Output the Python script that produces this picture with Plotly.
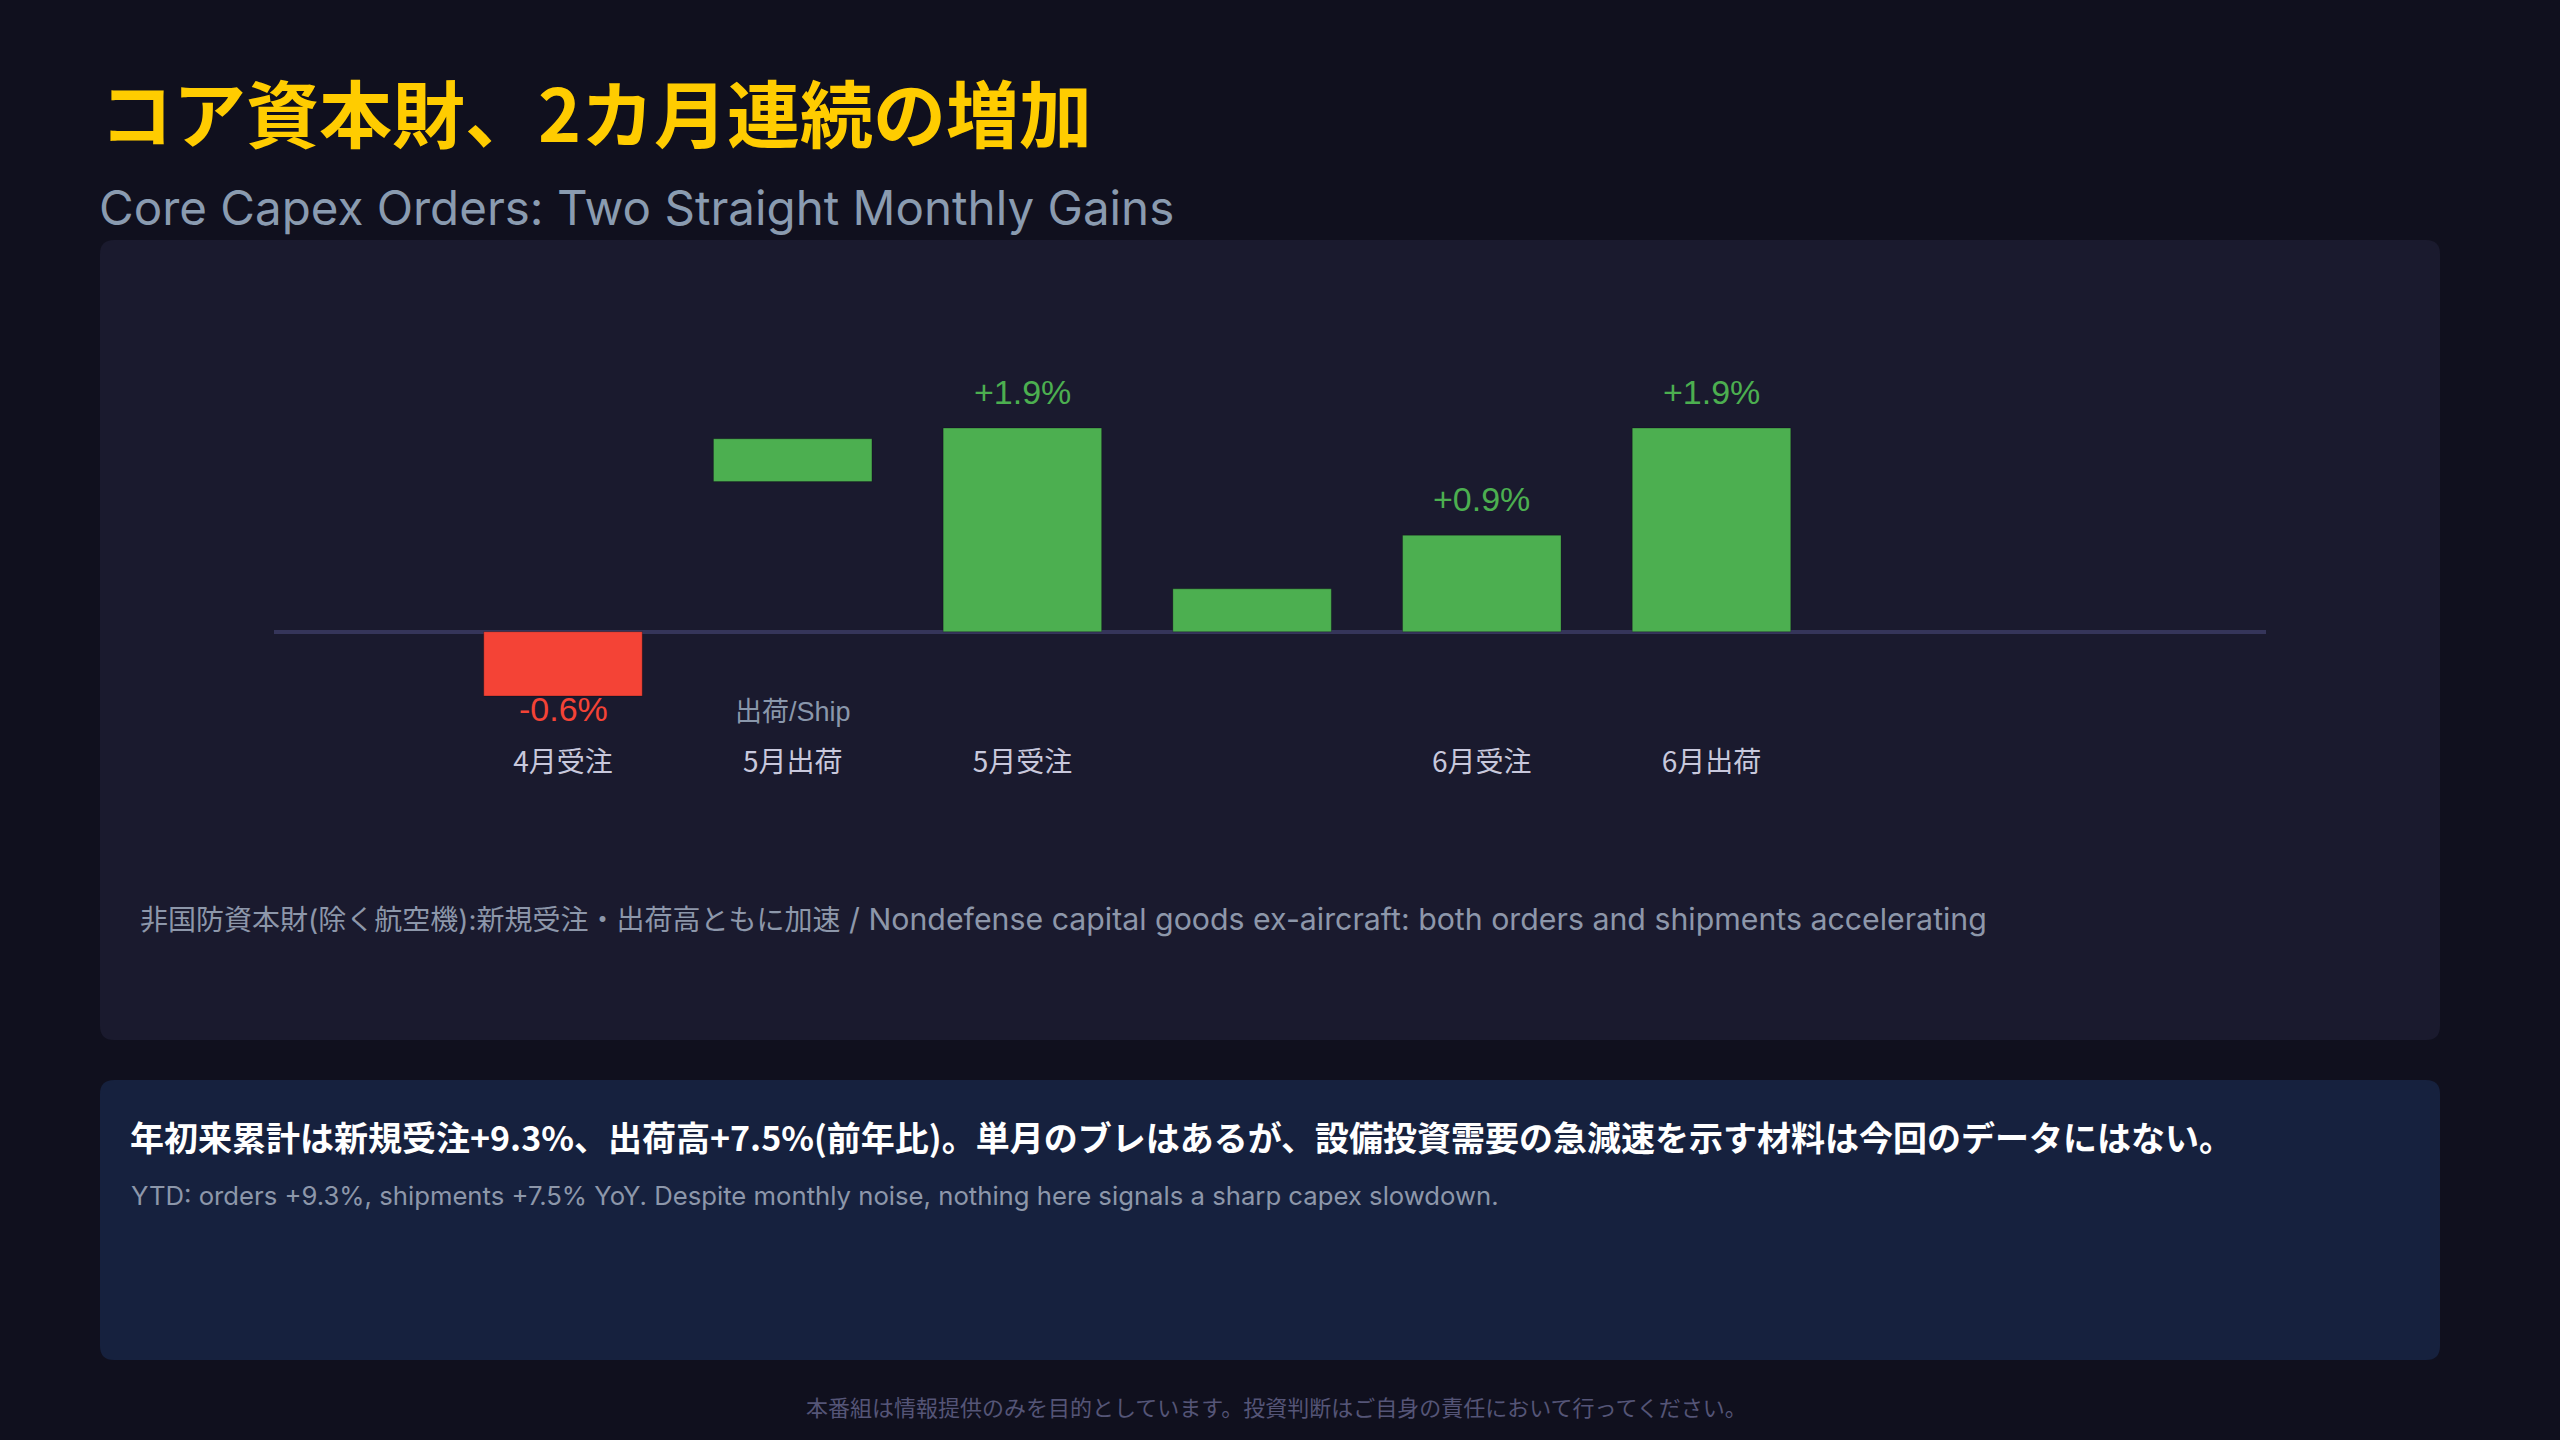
import plotly.graph_objects as go

# ---- data ----
categories = ["4月受注", "5月出荷", "5月受注", "", "6月受注", "6月出荷"]
values = [-0.6, 0.4, 1.9, 0.4, 0.9, 1.9]
bases = [0, 1.4, 0, 0, 0, 0]
value_labels = ["-0.6%", "", "+1.9%", "", "+0.9%", "+1.9%"]
ship_note = "出荷/Ship"

title_jp = "コア資本財、2カ月連続の増加"
title_en = "Core Capex Orders: Two Straight Monthly Gains"
note_jp = "非国防資本財(除く航空機):新規受注・出荷高ともに加速"
note_en = " / Nondefense capital goods ex-aircraft: both orders and shipments accelerating"
summary_jp = "年初来累計は新規受注+9.3%、出荷高+7.5%(前年比)。単月のブレはあるが、設備投資需要の急減速を示す材料は今回のデータにはない。"
summary_en = "YTD: orders +9.3%, shipments +7.5% YoY. Despite monthly noise, nothing here signals a sharp capex slowdown."
footer = "本番組は情報提供のみを目的としています。投資判断はご自身の責任において行ってください。"

# ---- layout geometry (pixels) ----
FW, FH = 2560, 1440
L, R, T, B = 274, 2266, 300, 743
PW, PH = R - L, B - T
ZERO_PX, PX_PER_UNIT = 631.7, 107.2
ymax = (ZERO_PX - T) / PX_PER_UNIT
ymin = -(B - ZERO_PX) / PX_PER_UNIT
BAND = 229.7
x_first = 563
xmin = -(x_first - L) / BAND
xmax = xmin + PW / BAND


def px(xp):
    return (xp - L) / PW


def py(yp):
    return (B - yp) / PH


def rrect(x0, y0, x1, y1, r):
    X0, X1 = px(x0), px(x1)
    Y0, Y1 = py(y0), py(y1)
    rx, ry = r / PW, r / PH
    return (f"M {X0+rx},{Y0} L {X1-rx},{Y0} Q {X1},{Y0} {X1},{Y0-ry} "
            f"L {X1},{Y1+ry} Q {X1},{Y1} {X1-rx},{Y1} L {X0+rx},{Y1} "
            f"Q {X0},{Y1} {X0},{Y1+ry} L {X0},{Y0-ry} Q {X0},{Y0} {X0+rx},{Y0} Z")


LAT = "Liberation Sans, Noto Sans CJK JP, sans-serif"
INT = "Inter, Noto Sans CJK JP, sans-serif"
CJK = "Noto Sans CJK JP, sans-serif"

xs = list(range(len(categories)))
colors = ["#f44336" if v < 0 else "#4caf50" for v in values]

fig = go.Figure()
fig.add_trace(go.Bar(
    x=xs, y=values, base=bases, width=0.69,
    marker=dict(color=colors, line=dict(width=1, color="rgba(0,0,0,0.25)")),
    hoverinfo="skip", showlegend=False,
))

annotations = []
for i, (v, b, lab) in enumerate(zip(values, bases, value_labels)):
    if not lab:
        continue
    if v >= 0:
        annotations.append(dict(x=i, y=b + v, xref="x", yref="y", text=lab, showarrow=False,
                                yanchor="middle", yshift=36,
                                font=dict(family=LAT, size=34, color="#4caf50")))
    else:
        annotations.append(dict(x=i, y=b + v, xref="x", yref="y", text=lab, showarrow=False,
                                yanchor="middle", yshift=-13,
                                font=dict(family=LAT, size=34, color="#f44336")))

annotations.append(dict(x=categories.index("5月出荷"), y=py(712), xref="x", yref="paper",
                        text=ship_note, showarrow=False, yanchor="middle",
                        font=dict(family=LAT, size=27, color="#8a97ab")))

annotations += [
    dict(x=px(98), y=py(110), xref="paper", yref="paper", text=f"<b>{title_jp}</b>",
         showarrow=False, xanchor="left", yanchor="middle",
         font=dict(family=CJK, size=73, color="#ffcc00")),
    dict(x=px(97), y=py(207), xref="paper", yref="paper", text=title_en,
         showarrow=False, xanchor="left", yanchor="middle",
         font=dict(family=INT, size=47.5, color="#8a9bb0")),
    dict(x=px(138), y=py(919), xref="paper", yref="paper",
         text=f"{note_jp}<span style='font-size:30.3px'>{note_en}</span>",
         showarrow=False, xanchor="left", yanchor="middle",
         font=dict(family=INT, size=28, color="#8d97aa")),
    dict(x=px(128), y=py(1136), xref="paper", yref="paper", text=f"<b>{summary_jp}</b>",
         showarrow=False, xanchor="left", yanchor="middle",
         font=dict(family=CJK, size=34, color="#ffffff")),
    dict(x=px(129), y=py(1195), xref="paper", yref="paper", text=summary_en,
         showarrow=False, xanchor="left", yanchor="middle",
         font=dict(family=INT, size=25.7, color="#8d97aa")),
    dict(x=px(1276), y=py(1406), xref="paper", yref="paper", text=footer,
         showarrow=False, xanchor="center", yanchor="middle",
         font=dict(family=CJK, size=22, color="#555577")),
]

shapes = [
    dict(type="path", xref="paper", yref="paper", path=rrect(100, 240, 2440, 1040, 14),
         fillcolor="#1a1a2e", line=dict(width=0), layer="below"),
    dict(type="path", xref="paper", yref="paper", path=rrect(100, 1080, 2440, 1360, 14),
         fillcolor="#16213e", line=dict(width=0), layer="below"),
]

fig.update_layout(
    width=FW, height=FH,
    margin=dict(l=L, r=FW - R, t=T, b=FH - B, pad=0),
    paper_bgcolor="#10101e", plot_bgcolor="rgba(0,0,0,0)",
    bargap=0.3,
    xaxis=dict(range=[xmin, xmax], tickmode="array", tickvals=xs, ticktext=categories,
               showgrid=False, zeroline=False, showline=False, ticks="",
               tickfont=dict(family=CJK, size=28, color="#c8c8dc"), fixedrange=True),
    yaxis=dict(range=[ymin, ymax], showgrid=False, showticklabels=False, ticks="",
               zeroline=True, zerolinecolor="#35355a", zerolinewidth=4, showline=False,
               fixedrange=True),
    annotations=annotations, shapes=shapes, showlegend=False,
)

fig.write_html(
    "out.html",
    config={"displayModeBar": False},
    post_script="document.body.style.margin='0';document.body.style.background='#10101e';",
)
